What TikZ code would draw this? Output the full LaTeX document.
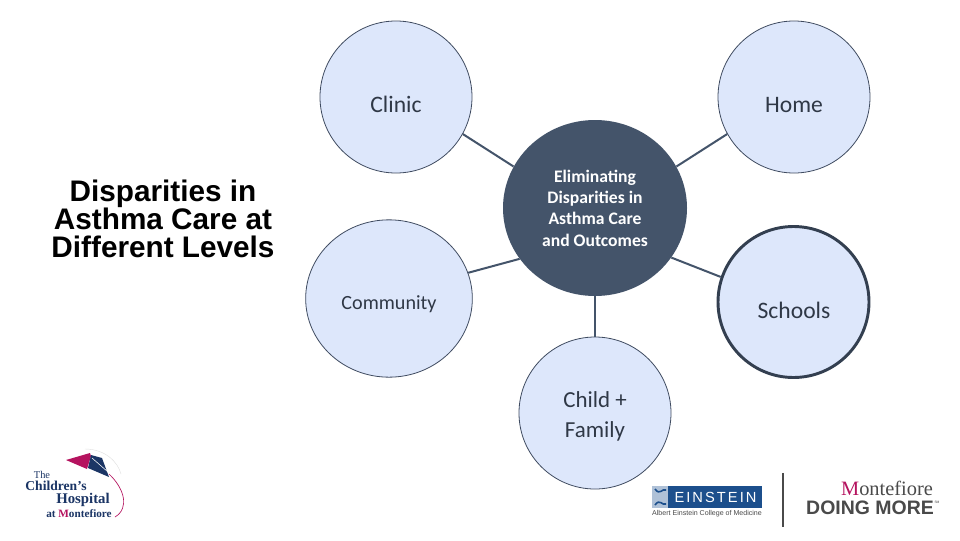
\documentclass[tikz,border=0pt]{standalone}
\usepackage{fontspec}
\setmainfont{Carlito}
\newfontfamily\headfont{Liberation Sans}
\newfontfamily\einfont[LetterSpace=14]{Liberation Sans}
\newfontfamily\logoserif{Liberation Serif}
\usetikzlibrary{shapes.geometric}
\definecolor{hubfill}{HTML}{44546A}
\definecolor{satfill}{HTML}{DDE7FB}
\definecolor{satline}{HTML}{3F4B60}
\definecolor{schoolline}{HTML}{333F50}
\definecolor{sattxt}{HTML}{2F3846}
\definecolor{kitepink}{HTML}{B5135F}
\definecolor{kitenavy}{HTML}{1B3565}
\definecolor{einblue}{HTML}{1C4F8C}
\definecolor{logogrey}{HTML}{4A4A4A}
\tikzset{
  sat/.style={circle,draw=satline,line width=.6pt,fill=satfill,inner sep=0pt,minimum size=#1*0.75pt},
  hub/.style={ellipse,fill=hubfill,inner sep=0pt,minimum width=138pt,minimum height=132pt},
  link/.style={draw=hubfill,line width=1.5pt},
  sattext/.style={font=\fontsize{17.7}{22}\selectfont,text=sattxt,align=center,inner sep=0pt},
  logotext/.style={inner sep=0pt,anchor=center}
}
\begin{document}
\begin{tikzpicture}[x=0.75pt,y=-0.75pt]
\useasboundingbox (0,0) rectangle (960,540);
\fill[white] (0,0) rectangle (960,540);
% nodes
\node[hub] (hubn) at (595,208) {};
\node[sat=152] (clinic) at (396,97) {};
\node[sat=152] (home) at (794,97) {};
\node[ellipse,draw=satline,line width=.6pt,fill=satfill,inner sep=0pt,minimum width=125pt,minimum height=118pt] (community) at (389,298.5) {};
\node[sat=151,draw=schoolline,line width=2.2pt] (schools) at (793.5,302) {};
\node[sat=152] (child) at (595,413) {};
% connectors
\draw[link] (clinic.-29) -- (hubn.153);
\draw[link] (home.209) -- (hubn.27);
\draw[link] (community.18) -- (hubn.214);
\draw[link] (schools.161) -- (hubn.-33);
\draw[link] (hubn.south) -- (child.north);
% texts
\node[sattext] (tclinic) at (396,104) {Clinic};
\node[sattext] (thome) at (794,105) {Home};
\node[sattext,font=\fontsize{15.1}{20}\selectfont] (tcomm) at (389,304.5) {Community};
\node[sattext] (tschools) at (794,310) {Schools};
\node[sattext,font=\fontsize{17.2}{22.5}\selectfont] (tchild) at (595,416.5) {Child +\\Family};
\node[align=center,inner sep=0pt,text=white,font=\fontsize{13.2}{16}\selectfont\bfseries] (thub) at (595,208) {Eliminating\\Disparities in\\Asthma Care\\and Outcomes};
\node[align=center,inner sep=0pt,text=black,font=\headfont\bfseries\fontsize{22.3}{21}\selectfont] (title) at (163,219) {Disparities in\\Asthma Care at\\Different Levels};
% Children's Hospital logo
\draw[line width=.3pt,black!12] (85,449) .. controls (105,449) and (118,462) .. (121,474);
\fill[kitepink] (66,460) -- (90,453) -- (91,456) -- (87,469) -- cycle;
\fill[kitenavy] (91,455) -- (102,458) -- (109,477) -- (88,468) -- cycle;
\draw[white,line width=.4pt] (92,458) -- (108,472);
\draw[kitepink,line width=.5pt] (109,474) .. controls (124,488) and (130,508) .. (115,517);
\node[logotext,text=kitenavy,font=\logoserif\fontsize{7.8}{8}\selectfont] (lthe) at (42,474.5) {The};
\node[logotext,text=kitenavy,font=\logoserif\bfseries\fontsize{10.2}{10}\selectfont] (lchild) at (56,486) {Children’s};
\node[logotext,text=kitenavy,font=\logoserif\bfseries\fontsize{11.1}{11}\selectfont] (lhosp) at (83,500) {Hospital};
\node[logotext,text=kitenavy,font=\logoserif\bfseries\fontsize{8.4}{8}\selectfont] (lmont) at (79,513.5) {at \textcolor{kitepink}{M}ontefiore};
% Einstein logo
\fill[einblue] (652,486) rectangle (762,508);
\fill[white!65!einblue] (652,486) rectangle (668,508);
\draw[einblue,line width=1.2pt] (655,489) .. controls (660,496) and (662,488) .. (666,490);
\draw[einblue,line width=1.2pt] (655,505) .. controls (660,498) and (662,506) .. (666,504);
\node[logotext,text=white,font=\einfont\fontsize{11}{13}\selectfont] (lein) at (715.5,497) {EINSTEIN};
\node[logotext,text=logogrey,font=\headfont\fontsize{5.3}{6}\selectfont] (lcol) at (707,513.5) {Albert Einstein College of Medicine};
\node[inner sep=0pt] (lta) at (783,472) {};
\node[inner sep=0pt] (ltb) at (783,528) {};
\draw[logogrey,line width=.8pt] (lta) -- (ltb);
% Montefiore logo
\node[logotext,text=logogrey,font=\logoserif\fontsize{15.3}{14}\selectfont] (lmf) at (887,488.5) {\textcolor{kitepink}{M}ontefiore};
\node[logotext,text=logogrey,font=\headfont\bfseries\fontsize{14.6}{15}\selectfont] (ldm) at (870,508) {DOING MORE};
\node[logotext,text=logogrey,font=\headfont\fontsize{2.5}{3}\selectfont] (lsm) at (937,502) {SM};
\end{tikzpicture}
\end{document}
